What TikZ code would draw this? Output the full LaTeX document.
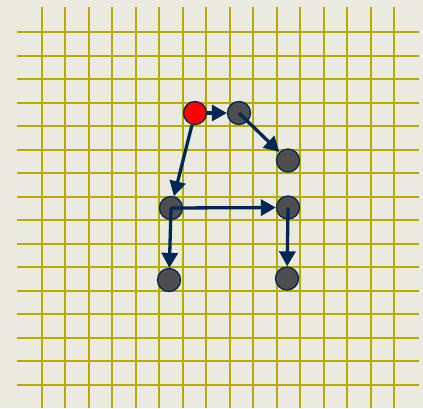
\documentclass[tikz,border=0pt]{standalone}
\usetikzlibrary{arrows.meta}
\definecolor{bgc}{RGB}{234,234,224}
\definecolor{gridc}{RGB}{182,172,0}
\definecolor{navy}{RGB}{0,38,84}
\definecolor{dotgray}{RGB}{78,78,80}
\tikzset{
  dot/.style={circle,draw=navy,line width=1.3pt,fill=dotgray,minimum size=23pt,inner sep=0pt},
  startdot/.style={dot,fill=red},
  link/.style={draw=navy,line width=3.3pt,-{Triangle[length=15pt,width=16pt]}},
  gridline/.style={draw=gridc,line width=2pt}
}
\begin{document}
\begin{tikzpicture}[x=1pt,y=-1pt]
\useasboundingbox (0,0) rectangle (423,408);
\fill[bgc] (0,0) rectangle (423,408);
\foreach \i [evaluate=\i as \gx using {round(41.5+23.5*\i)}, evaluate=\i as \gy using {round(32+23.5*\i)}] in {0,...,15} {
  \draw[gridline] (\gx,7) -- (\gx,408);
  \draw[gridline] (17,\gy) -- (419,\gy);
}
\node[startdot] (r) at (195,113) {};
\node[dot] (a) at (239,113) {};
\node[dot] (b) at (288,160.5) {};
\node[dot] (c) at (171,208) {};
\node[dot] (d) at (288,207.5) {};
\node[dot] (e) at (169,280) {};
\node[dot] (f) at (287,278.5) {};
\draw[link] (r) -- (a);
\draw[link] (a.center) -- (b);
\draw[link] (r) -- (c);
\draw[link] (c.center) -- (d);
\draw[link] (c.center) -- (e);
\draw[link] (d.center) -- (f);
\end{tikzpicture}
\end{document}
